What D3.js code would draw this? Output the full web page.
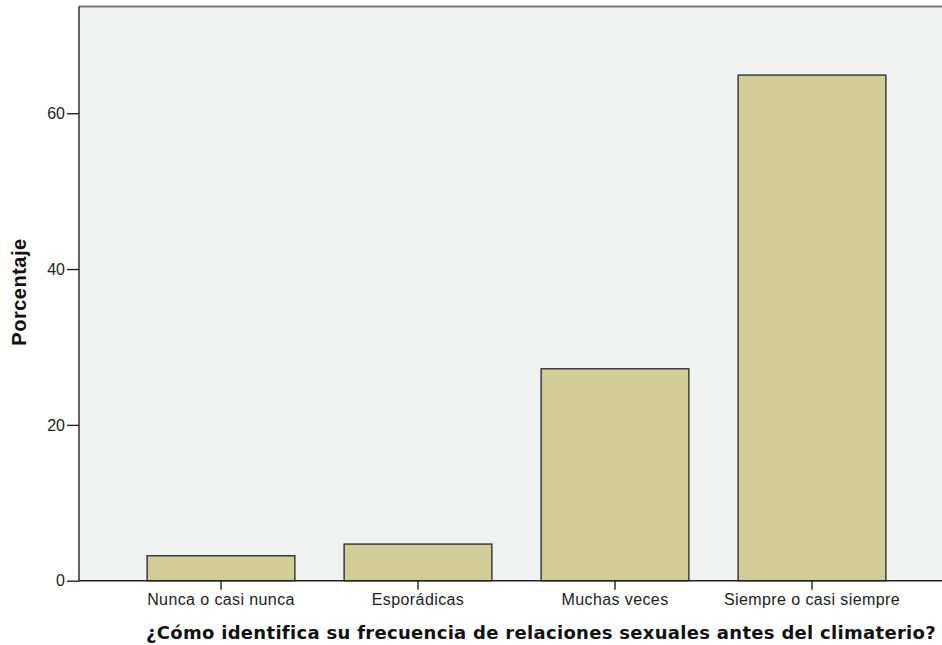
<!DOCTYPE html>
<html>
<head>
<meta charset="utf-8">
<script src="https://cdn.jsdelivr.net/npm/d3@7"></script>
<style>
  body { margin: 0; background: #fff; }
  text { font-family: "Liberation Sans", Arial, sans-serif; }
</style>
</head>
<body>
<div id="chart"></div>
<script>
// data
const categories = ["Nunca o casi nunca", "Esporádicas", "Muchas veces", "Siempre o casi siempre"];
const percentages = [3.2, 4.7, 27.2, 64.9];
const yTicks = [0, 20, 40, 60];

const width = 942, height = 645;
const plotLeft = 79, plotTop = 6.5, plotBottom = 580.7;

const svg = d3.select("#chart").append("svg")
  .attr("width", width)
  .attr("height", height);

// scales
const x = d3.scaleBand()
  .domain(categories)
  .range([122.5, 910.5])
  .paddingInner(0.25)
  .paddingOuter(0.125);

const y = d3.scaleLinear()
  .domain([0, 73.7])
  .range([plotBottom, plotTop]);

// plot background
svg.append("rect")
  .attr("x", plotLeft)
  .attr("y", plotTop)
  .attr("width", width - plotLeft)
  .attr("height", plotBottom - plotTop)
  .attr("fill", "#f0f1f1");

svg.append("line")
  .attr("x1", plotLeft).attr("x2", width)
  .attr("y1", plotTop).attr("y2", plotTop)
  .attr("stroke", "#7a7a7a")
  .attr("stroke-width", 1.8);

// bars
svg.selectAll("rect.bar")
  .data(percentages)
  .enter()
  .append("rect")
    .attr("class", "bar")
    .attr("x", (d, i) => x(categories[i]))
    .attr("y", d => y(d))
    .attr("width", x.bandwidth())
    .attr("height", d => y(0) - y(d))
    .attr("fill", "#d2cd96")
    .attr("stroke", "#333")
    .attr("stroke-width", 1.4);

// y axis
const yAxis = svg.append("g")
  .attr("transform", `translate(${plotLeft},0)`)
  .call(d3.axisLeft(y).tickValues(yTicks).tickSize(12).tickPadding(2));
yAxis.select(".domain").attr("d", `M0,${plotTop}V${plotBottom}`).attr("stroke", "#222").attr("stroke-width", 1.4);
yAxis.selectAll(".tick line").attr("stroke", "#222").attr("stroke-width", 1.4);
yAxis.selectAll(".tick text")
  .attr("font-size", 16)
  .attr("fill", "#222")
  .style("font-family", "'Liberation Sans', Arial, sans-serif");

// x axis
const xAxis = svg.append("g")
  .attr("transform", `translate(0,${plotBottom})`)
  .call(d3.axisBottom(x).tickSize(9).tickPadding(4));
xAxis.select(".domain").attr("d", `M${plotLeft},0H${width}`).attr("stroke", "#222").attr("stroke-width", 1.4);
xAxis.selectAll(".tick line").attr("stroke", "#222").attr("stroke-width", 1.4);
xAxis.selectAll(".tick text")
  .attr("font-size", 16)
  .attr("fill", "#222")
  .style("letter-spacing", "0.4px")
  .style("font-family", "'Liberation Sans', Arial, sans-serif");

// axis titles
svg.append("text")
  .attr("transform", "translate(26,292) rotate(-90)")
  .attr("text-anchor", "middle")
  .attr("font-size", 20)
  .attr("font-weight", "bold")
  .attr("fill", "#111")
  .style("letter-spacing", "0.5px")
  .text("Porcentaje");

svg.append("text")
  .attr("x", 541)
  .attr("y", 639)
  .attr("text-anchor", "middle")
  .attr("font-size", 18)
  .attr("font-weight", "bold")
  .attr("fill", "#111")
  .style("font-family", "'DejaVu Sans', sans-serif")
  .style("letter-spacing", "0.3px")
  .text("¿Cómo identifica su frecuencia de relaciones sexuales antes del climaterio?");
</script>
</body>
</html>
